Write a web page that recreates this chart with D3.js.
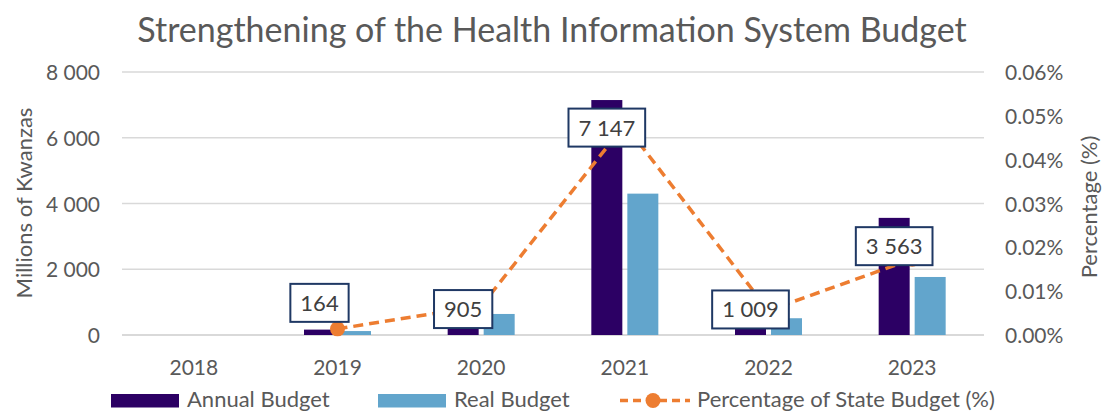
<!DOCTYPE html>
<html>
<head>
<meta charset="utf-8">
<script src="https://cdn.jsdelivr.net/npm/d3@7"></script>
<style>
  body { margin: 0; background: #fff; }
  text { font-family: Lato, "Open Sans", sans-serif; fill: #595959; }
</style>
</head>
<body>
<script>
// Health Information System budget: bars (left axis) + % of state budget line (right axis)

var width = 1104;
var height = 413;

var years = ["2018", "2019", "2020", "2021", "2022", "2023"];
var annualBudget = [0, 164, 905, 7147, 1009, 3563];
var realBudget = [0, 120, 640, 4300, 510, 1765];
var pctStateBudget = [null, 0.0014, 0.0066, 0.048, 0.0056, 0.0173]; // in %
var leftTicks = [0, 2000, 4000, 6000, 8000];
var rightTicks = [0, 0.01, 0.02, 0.03, 0.04, 0.05, 0.06];

var colAnnual = "#2c0064";
var colReal = "#62a5cc";
var colLine = "#ed7d31";

var plotLeft = 122, plotRight = 984, plotTop = 72, plotBottom = 335;

var svg = d3.select("body")
            .append("svg")
            .attr("width", width)
            .attr("height", height);

var xScale = d3.scaleBand()
               .domain(years)
               .range([plotLeft, plotRight]);

var subScale = d3.scaleBand() // two bars inside each year
                 .domain(["annual", "real"])
                 .range([-33.5, 33.5])
                 .paddingInner(0.139);

var yLeft = d3.scaleLinear()
              .domain([0, 8000])
              .range([plotBottom, plotTop]);

var yRight = d3.scaleLinear()
               .domain([0, 0.06])
               .range([plotBottom, plotTop]);

var spaceFmt = d3.formatLocale({ decimal: ".", thousands: " ", grouping: [3], currency: ["", ""] }).format(",");

function center(yr){
  return xScale(yr) + xScale.bandwidth() / 2;
}

// title
svg.append("text")
   .attr("x", 552)
   .attr("y", 42)
   .attr("text-anchor", "middle")
   .attr("font-size", "34px")
   .text("Strengthening of the Health Information System Budget");

// gridlines
svg.append("g")
   .selectAll("line")
   .data(leftTicks)
   .enter()
   .append("line")
   .attr("x1", plotLeft)
   .attr("x2", plotRight)
   .attr("y1", function(d){ return yLeft(d); })
   .attr("y2", function(d){ return yLeft(d); })
   .attr("stroke", "#d9d9d9")
   .attr("stroke-width", function(d){ return d === 0 ? 2 : 1.5; });

// axes (labels only)
var leftAxis = d3.axisLeft(yLeft)
                 .tickValues(leftTicks)
                 .tickSize(0)
                 .tickPadding(0)
                 .tickFormat(spaceFmt);

var gLeft = svg.append("g")
   .attr("transform", "translate(100,0)")
   .call(leftAxis);

var rightAxis = d3.axisRight(yRight)
                  .tickValues(rightTicks)
                  .tickSize(0)
                  .tickPadding(0)
                  .tickFormat(function(d){ return d.toFixed(2) + "%"; });

var gRight = svg.append("g")
   .attr("transform", "translate(1005,0)")
   .call(rightAxis);

var bottomAxis = d3.axisBottom(xScale)
                   .tickSize(0)
                   .tickPadding(0);

var gBottom = svg.append("g")
   .attr("transform", "translate(0,357)")
   .call(bottomAxis);

[gLeft, gRight, gBottom].forEach(function(g){
  g.select(".domain").remove();
  g.selectAll("text")
   .attr("font-family", null)
   .attr("fill", "#595959")
   .attr("font-size", "21px");
});
gBottom.selectAll("text").attr("dy", "0.85em");
gLeft.selectAll("text").attr("dy", "0.36em");
gRight.selectAll("text").attr("dy", "0.36em");

// axis titles
svg.append("text")
   .attr("transform", "translate(32,203) rotate(-90)")
   .attr("text-anchor", "middle")
   .attr("font-size", "22px")
   .text("Millions of Kwanzas");

svg.append("text")
   .attr("transform", "translate(1097,207) rotate(-90)")
   .attr("text-anchor", "middle")
   .attr("font-size", "22px")
   .text("Percentage (%)");

// bars
var barW = subScale.bandwidth();

svg.append("g")
   .selectAll("rect")
   .data(annualBudget)
   .enter()
   .append("rect")
   .attr("x", function(d, i){ return center(years[i]) + subScale("annual"); })
   .attr("y", function(d){ return yLeft(d); })
   .attr("width", barW)
   .attr("height", function(d){ return plotBottom - yLeft(d); })
   .attr("fill", colAnnual);

svg.append("g")
   .selectAll("rect")
   .data(realBudget)
   .enter()
   .append("rect")
   .attr("x", function(d, i){ return center(years[i]) + subScale("real"); })
   .attr("y", function(d){ return yLeft(d); })
   .attr("width", barW)
   .attr("height", function(d){ return plotBottom - yLeft(d); })
   .attr("fill", colReal);

// percentage line
var pts = pctStateBudget.map(function(d, i){ return { yr: years[i], v: d }; })
                        .filter(function(d){ return d.v !== null; });

var line = d3.line()
             .x(function(d){ return center(d.yr); })
             .y(function(d){ return yRight(d.v); });

svg.append("path")
   .datum(pts)
   .attr("d", line)
   .attr("fill", "none")
   .attr("stroke", colLine)
   .attr("stroke-width", 3.5)
   .attr("stroke-dasharray", "10,6");

svg.append("g")
   .selectAll("circle")
   .data(pts)
   .enter()
   .append("circle")
   .attr("cx", function(d){ return center(d.yr); })
   .attr("cy", function(d){ return yRight(d.v); })
   .attr("r", 7.5)
   .attr("fill", colLine);

// data labels for the annual budget (nudged around the line points)
var labelNudge = [0, -26, 3, 3, -1, -13];

var labels = svg.append("g")
   .selectAll("g")
   .data(annualBudget.map(function(d, i){ return { v: d, i: i }; })
                     .filter(function(d){ return d.v > 0; }))
   .enter()
   .append("g")
   .attr("transform", function(d){
     var cx = center(years[d.i]) + subScale("annual") + barW / 2;
     var cy = yRight(pctStateBudget[d.i]) + labelNudge[d.i];
     return "translate(" + cx + "," + cy + ")";
   });

labels.append("rect")
      .attr("fill", "#fff")
      .attr("stroke", "#1f3864")
      .attr("stroke-width", 2);

labels.append("text")
      .attr("text-anchor", "middle")
      .attr("dy", "0.36em")
      .attr("font-size", "22px")
      .attr("fill", "#404040")
      .style("fill", "#404040")
      .text(function(d){ return spaceFmt(d.v); });

labels.each(function(){
  var g = d3.select(this);
  var w = g.select("text").node().getComputedTextLength() + 20;
  g.select("rect")
   .attr("x", -w / 2)
   .attr("y", -19)
   .attr("width", w)
   .attr("height", 38);
});

// legend
var legend = svg.append("g");

legend.append("rect")
      .attr("x", 111).attr("y", 394).attr("width", 68).attr("height", 13.5)
      .attr("fill", colAnnual);
legend.append("text")
      .attr("x", 187).attr("y", 407).attr("font-size", "22px")
      .text("Annual Budget");

legend.append("rect")
      .attr("x", 378).attr("y", 394).attr("width", 68).attr("height", 13.5)
      .attr("fill", colReal);
legend.append("text")
      .attr("x", 454).attr("y", 407).attr("font-size", "22px")
      .text("Real Budget");

legend.append("line")
      .attr("x1", 620).attr("x2", 690).attr("y1", 400.5).attr("y2", 400.5)
      .attr("stroke", colLine).attr("stroke-width", 3.5)
      .attr("stroke-dasharray", "8,5");
legend.append("circle")
      .attr("cx", 653).attr("cy", 400.5).attr("r", 7.5)
      .attr("fill", colLine);
legend.append("text")
      .attr("x", 697).attr("y", 407).attr("font-size", "22px")
      .text("Percentage of State Budget (%)");
</script>
</body>
</html>
